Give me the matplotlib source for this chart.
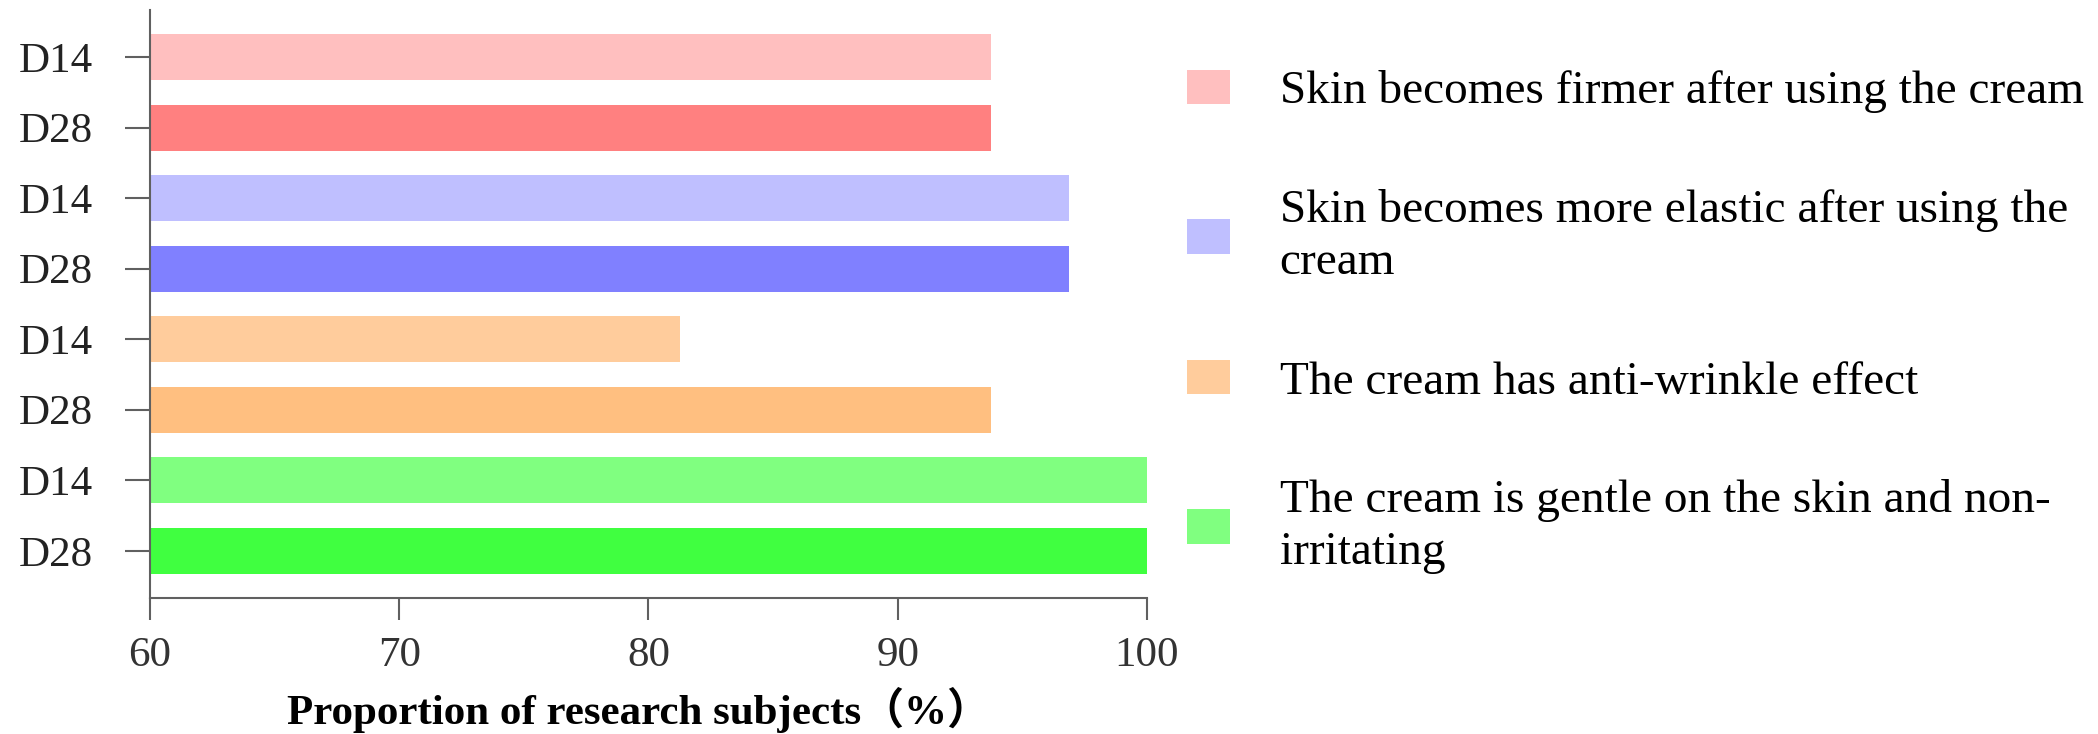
import matplotlib
matplotlib.use("Agg")
import matplotlib.pyplot as plt
from matplotlib.patches import Patch

# ---- data ----
categories = [
    "Skin becomes firmer after using the cream",
    "Skin becomes more elastic after using the\ncream",
    "The cream has anti-wrinkle effect",
    "The cream is gentle on the skin and non-\nirritating",
]
d14_values = [93.75, 96.875, 81.25, 100.0]
d28_values = [93.75, 96.875, 93.75, 100.0]
day_labels = ["D14", "D28"]
x_ticks = [60, 70, 80, 90, 100]
x_label = "Proportion of research subjects（%）"

light_colors = ["#FFBFBF", "#BFBFFF", "#FFCC9C", "#80FF80"]
dark_colors = ["#FF8080", "#8080FF", "#FFBF80", "#40FF40"]

plt.rcParams["font.family"] = ["Liberation Serif", "Noto Sans CJK SC"]

fig = plt.figure(figsize=(20.98, 7.34), dpi=100)
ax = fig.add_axes([0.0715, 0.1853, 0.4752, 0.8011])

positions = []
labels = []
values = []
colors = []
for i in range(len(categories)):
    positions += [2 * i, 2 * i + 1]
    labels += day_labels
    values += [d14_values[i], d28_values[i]]
    colors += [light_colors[i], dark_colors[i]]

ax.barh(positions, values, height=0.65, color=colors)

ax.set_xlim(60, 100)
ax.set_ylim(7.67, -0.67)
ax.set_xticks(x_ticks)
ax.set_yticks(positions)
ax.set_yticklabels(labels)

for s in ["top", "right"]:
    ax.spines[s].set_visible(False)
for s in ["left", "bottom"]:
    ax.spines[s].set_color("#606060")
    ax.spines[s].set_linewidth(1.5)

ax.tick_params(axis="y", direction="out", length=18, width=1.5, color="#606060",
               pad=23, labelsize=31, labelcolor="#222222")
ax.tick_params(axis="x", direction="out", length=16, width=1.5, color="#606060",
               pad=12, labelsize=31, labelcolor="#333333")

ax.set_xlabel(x_label, fontsize=31, fontweight="bold",
              family=["Liberation Serif", "Noto Sans CJK SC"])
ax.xaxis.set_label_coords(0.49, -0.152)

handles = [Patch(facecolor=c, edgecolor="none") for c in light_colors]
leg = fig.legend(handles, categories, loc="upper left",
                 bbox_to_anchor=(0.566, 0.905), frameon=False,
                 fontsize=34, handlelength=0.9, handleheight=0.75,
                 handletextpad=1.05, labelspacing=1.6, borderpad=0,
                 borderaxespad=0)
for t in leg.get_texts():
    t.set_linespacing(1.3)

fig.savefig("out.png", dpi=100)
